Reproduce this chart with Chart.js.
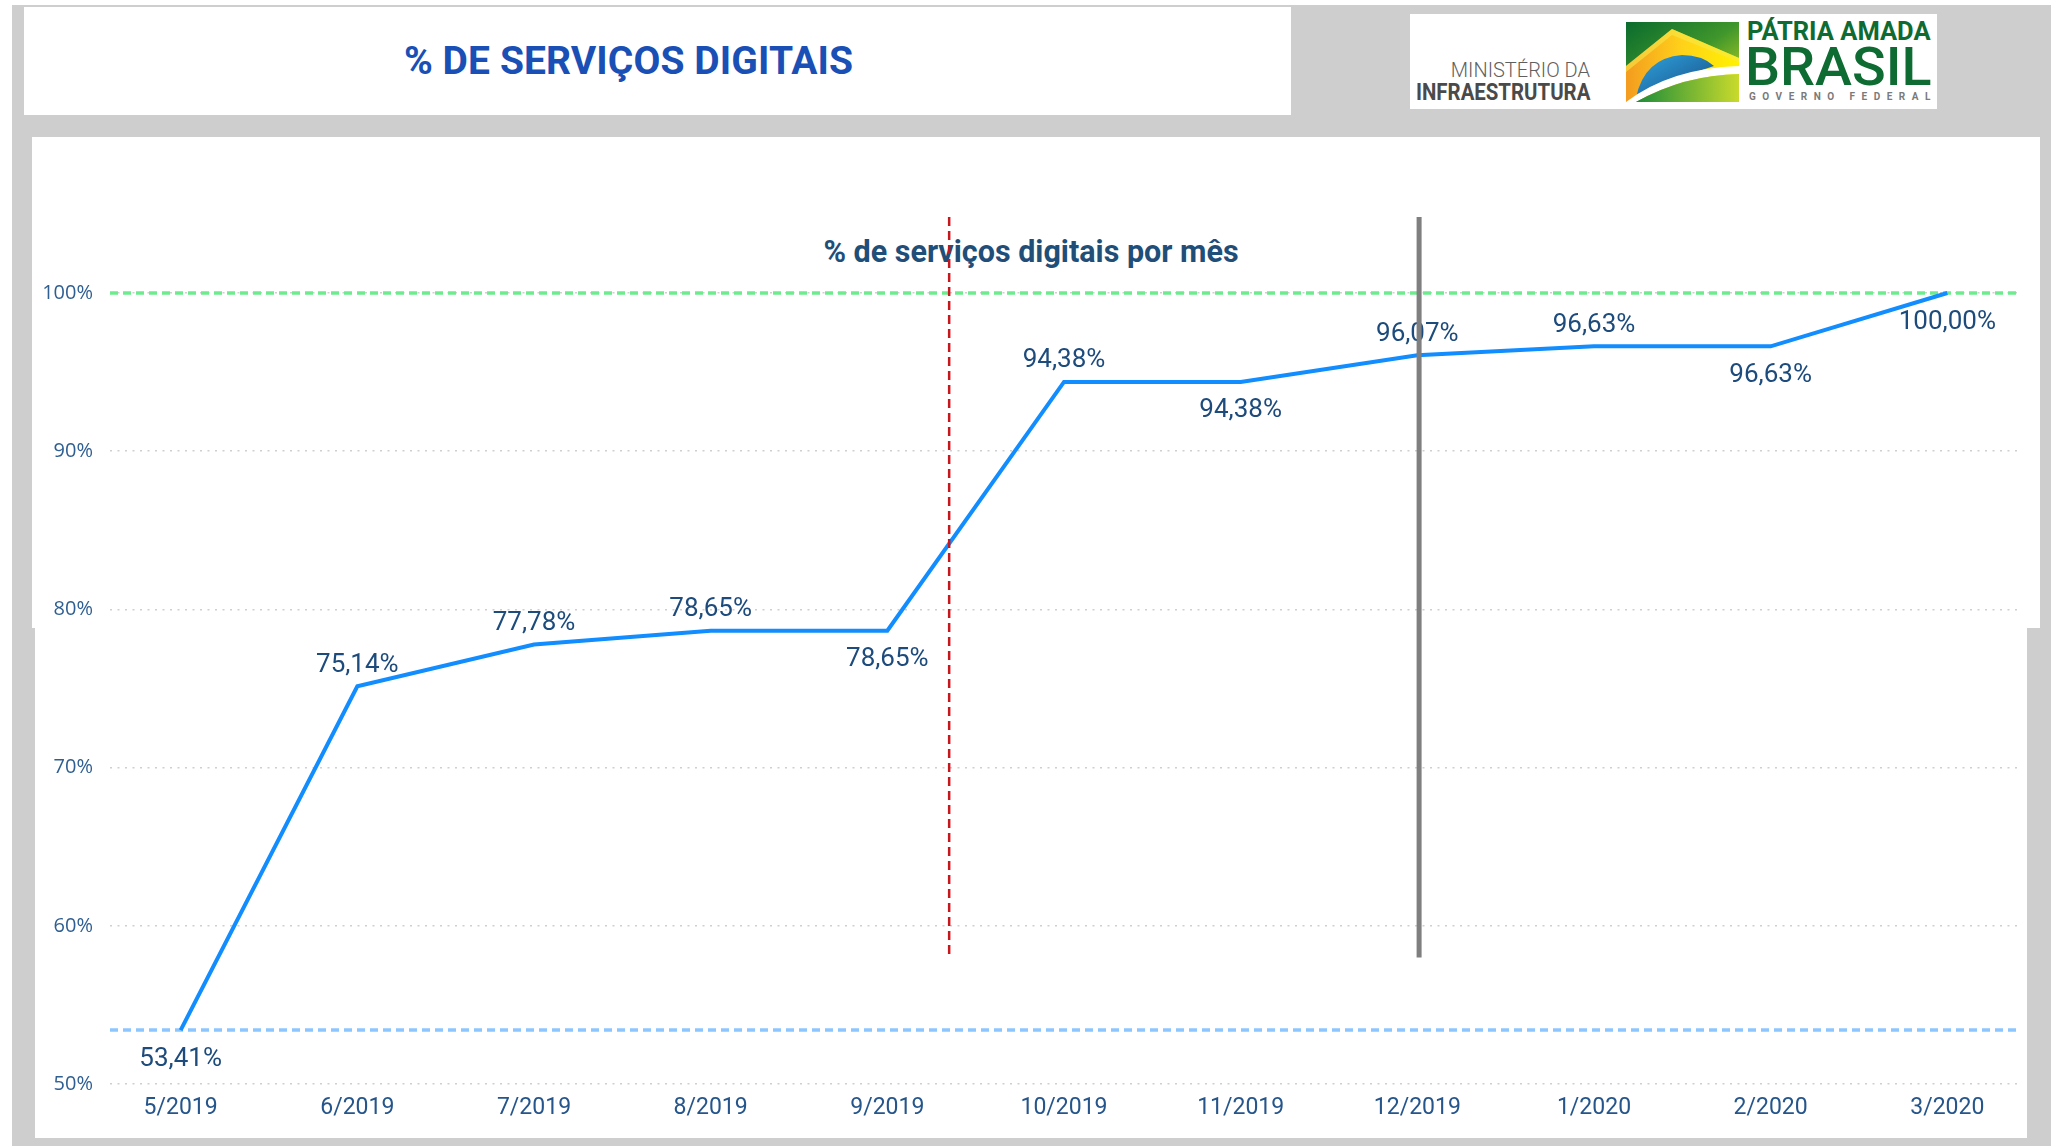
<!DOCTYPE html>
<html>
<head>
<meta charset="utf-8">
<script src="https://cdn.jsdelivr.net/npm/chart.js@4.4.1/dist/chart.umd.min.js"></script>
<style>
  html, body { margin: 0; padding: 0; }
  body { width: 2051px; height: 1146px; background: #ffffff; position: relative; overflow: hidden; font-family: Roboto, "Noto Sans", sans-serif; }
  .abs { position: absolute; }
  #bg { left: 12px; top: 5px; width: 2039px; height: 1141px; background: #cecece; }
  #header { left: 24px; top: 7px; width: 1267px; height: 108px; background: #fff; }
  #logo { left: 1410px; top: 14px; width: 527px; height: 95px; background: #fff; }
  #panelTop { left: 32px; top: 137px; width: 2008px; height: 491px; background: #fff; }
  #panelBot { left: 35px; top: 628px; width: 1992px; height: 510px; background: #fff; }
  #title { left: 330px; top: 38px; width: 597px; text-align: center; font-size: 39px; line-height: 46px; font-weight: 700; color: #1a4fb5; letter-spacing: 0.1px; white-space: nowrap; }
  #chartTitle { left: 730px; top: 234px; width: 602px; text-align: center; font-size: 30.5px; line-height: 36px; font-weight: 700; color: #1f4e79; white-space: nowrap; }
  .lt { white-space: nowrap; }
  #min1 { left: 1400px; width: 190px; text-align: right; top: 59px; font-size: 20px; line-height: 23px; font-weight: 300; color: #5f5f5f; }
  #min2 { left: 1416px; top: 78px; font-size: 24px; line-height: 28px; font-weight: 700; color: #4a4a4a; transform-origin: 0 0; transform: scaleX(0.85); }
  #pat { left: 1747px; top: 17px; font-size: 25px; line-height: 29px; font-weight: 700; color: #0e6b32; transform-origin: 0 0; transform: scaleX(1.02); }
  #bra { left: 1745px; top: 35px; font-size: 54px; line-height: 63px; font-weight: 500; color: #0e6b32; transform-origin: 0 0; transform: scaleX(1.03); }
  #gov { left: 1749px; top: 91px; font-size: 10px; line-height: 12px; font-weight: 700; color: #7a7a7a; letter-spacing: 6.5px; }
  #svgLogo { left: 1626px; top: 22px; }
  #c { position: absolute; left: 0; top: 0; z-index: 5; }
</style>
</head>
<body>
<div id="bg" class="abs"></div>
<div id="header" class="abs"></div>
<div id="title" class="abs">% DE SERVIÇOS DIGITAIS</div>
<div id="logo" class="abs"></div>
<div id="min1" class="abs lt">MINISTÉRIO DA</div>
<div id="min2" class="abs lt">INFRAESTRUTURA</div>
<svg id="svgLogo" class="abs" width="113" height="80" viewBox="0 0 113 80">
  <defs>
    <linearGradient id="gTop" x1="0" y1="0" x2="1" y2="1">
      <stop offset="0" stop-color="#0a6b2e"/>
      <stop offset="0.5" stop-color="#3f962b"/>
      <stop offset="1" stop-color="#d6df22"/>
    </linearGradient>
    <linearGradient id="gYel" x1="0" y1="0" x2="1" y2="0">
      <stop offset="0" stop-color="#f39c1f"/>
      <stop offset="0.5" stop-color="#ffd21a"/>
      <stop offset="1" stop-color="#fff200"/>
    </linearGradient>
    <linearGradient id="gBlue" x1="0" y1="0" x2="1" y2="1">
      <stop offset="0" stop-color="#2fa4dc"/>
      <stop offset="1" stop-color="#174b86"/>
    </linearGradient>
    <linearGradient id="gBot" x1="0" y1="0" x2="1" y2="0">
      <stop offset="0" stop-color="#1b8c3a"/>
      <stop offset="1" stop-color="#c9da2c"/>
    </linearGradient>
  </defs>
  <rect x="0" y="0" width="113" height="80" fill="url(#gTop)"/>
  <path d="M0,44 L46,7 L113,36 L113,56 L0,80 Z" fill="url(#gYel)"/>
  <path d="M0,44 L46,7 L113,36 L113,40 L46,13 L0,50 Z" fill="#f7e84a" opacity="0.6"/>
  <path d="M10,76 Q18,36 56,33 Q76,33 88,44 L40,60 Z" fill="url(#gBlue)"/>
  <path d="M0,80 Q45,46 113,44 L113,52 Q58,53 10,80 Z" fill="#ffffff"/>
  <path d="M10,80 Q58,53 113,52 L113,80 Z" fill="url(#gBot)"/>
</svg>
<div id="pat" class="abs lt">PÁTRIA AMADA</div>
<div id="bra" class="abs lt">BRASIL</div>
<div id="gov" class="abs lt">GOVERNO FEDERAL</div>
<div id="panelTop" class="abs"></div>
<div id="panelBot" class="abs"></div>
<div id="chartTitle" class="abs">% de serviços digitais por mês</div>
<canvas id="c" width="2051" height="1146"></canvas>
<script>
// ---- data ----
const categories = ['5/2019','6/2019','7/2019','8/2019','9/2019','10/2019','11/2019','12/2019','1/2020','2/2020','3/2020'];
const values = [53.41, 75.14, 77.78, 78.65, 78.65, 94.38, 94.38, 96.07, 96.63, 96.63, 100.00];
const labelPositions = ['below','above','above','above','below','above','below','above','above','below','below'];
const yTickValues = [50, 60, 70, 80, 90, 100];
const targetLine = 100;                 // green reference line
const minLine = Math.min(...values);    // blue reference line (minimum)
const redMarkerX = 4.35;                // dashed red vertical marker (between 9/2019 and 10/2019)
const grayMarkerX = 7.01;               // solid gray vertical marker (12/2019)
const markerTop = 104.8, markerBottom = 58.0;

const fmt = v => v.toFixed(2).replace('.', ',') + '%';

const refLinesPlugin = {
  id: 'refLines',
  beforeDatasetsDraw(chart) {
    const {ctx, chartArea, scales} = chart;
    const draw = (val, color, dash) => {
      const y = scales.y.getPixelForValue(val);
      ctx.save();
      ctx.strokeStyle = color; ctx.lineWidth = 3.5; ctx.setLineDash(dash);
      ctx.beginPath(); ctx.moveTo(chartArea.left, y); ctx.lineTo(chartArea.right, y); ctx.stroke();
      ctx.restore();
    };
    draw(targetLine, '#6dec8e', [8, 5]);
    draw(minLine, '#8cc6ff', [8, 5]);
  },
  afterDatasetsDraw(chart) {
    const {ctx} = chart;
    const meta = chart.getDatasetMeta(0);
    ctx.save();
    ctx.font = '26px Roboto';
    ctx.fillStyle = '#1d4b7c';
    ctx.textAlign = 'center';
    ctx.textBaseline = 'middle';
    meta.data.forEach((pt, i) => {
      const dy = labelPositions[i] === 'above' ? -21 : 29;
      ctx.fillText(fmt(values[i]), pt.x, pt.y + dy);
    });
    ctx.restore();
  },
  afterDraw(chart) {
    const {ctx, scales} = chart;
    const y1 = scales.y.getPixelForValue(markerTop), y2 = scales.y.getPixelForValue(markerBottom);
    let x = scales.x.getPixelForValue(redMarkerX);
    ctx.save();
    ctx.strokeStyle = '#c8161d'; ctx.lineWidth = 2.5; ctx.setLineDash([9, 5]);
    ctx.beginPath(); ctx.moveTo(x, y1); ctx.lineTo(x, y2); ctx.stroke();
    x = scales.x.getPixelForValue(grayMarkerX);
    ctx.strokeStyle = '#7f7f7f'; ctx.lineWidth = 5; ctx.setLineDash([]);
    ctx.beginPath(); ctx.moveTo(x, y1); ctx.lineTo(x, y2); ctx.stroke();
    ctx.restore();
  }
};

new Chart(document.getElementById('c'), {
  type: 'line',
  data: {
    datasets: [{
      data: values.map((v, i) => ({x: i, y: v})),
      borderColor: '#118dff',
      borderWidth: 4,
      pointRadius: 0,
      tension: 0,
      clip: false,
      fill: false
    }]
  },
  options: {
    responsive: false,
    animation: false,
    devicePixelRatio: 1,
    layout: { padding: { top: 293, right: 33, left: 0, bottom: 0 } },
    plugins: { legend: { display: false }, title: { display: false }, tooltip: { enabled: false } },
    scales: {
      x: {
        type: 'linear',
        min: -0.4, max: 10.4,
        afterBuildTicks: s => { s.ticks = categories.map((_, i) => ({value: i})); },
        afterFit: s => { s.height = 62; },
        grid: { display: false, drawTicks: false },
        border: { display: false },
        ticks: {
          autoSkip: false, maxRotation: 0, padding: 10,
          font: { family: 'Roboto', size: 23 }, color: '#25558a',
          callback: (v) => categories[v]
        }
      },
      y: {
        min: 50, max: 100,
        afterBuildTicks: s => { s.ticks = yTickValues.map(v => ({value: v})); },
        afterFit: s => { s.width = 110; },
        grid: { color: '#cfcfcf', lineWidth: 1.5, drawTicks: false },
        border: { display: false, dash: [2, 5.5] },
        ticks: {
          padding: 17,
          font: { family: 'Open Sans', size: 20 }, color: '#2f5f92',
          callback: v => v + '%'
        }
      }
    }
  },
  plugins: [refLinesPlugin]
});
</script>
</body>
</html>
